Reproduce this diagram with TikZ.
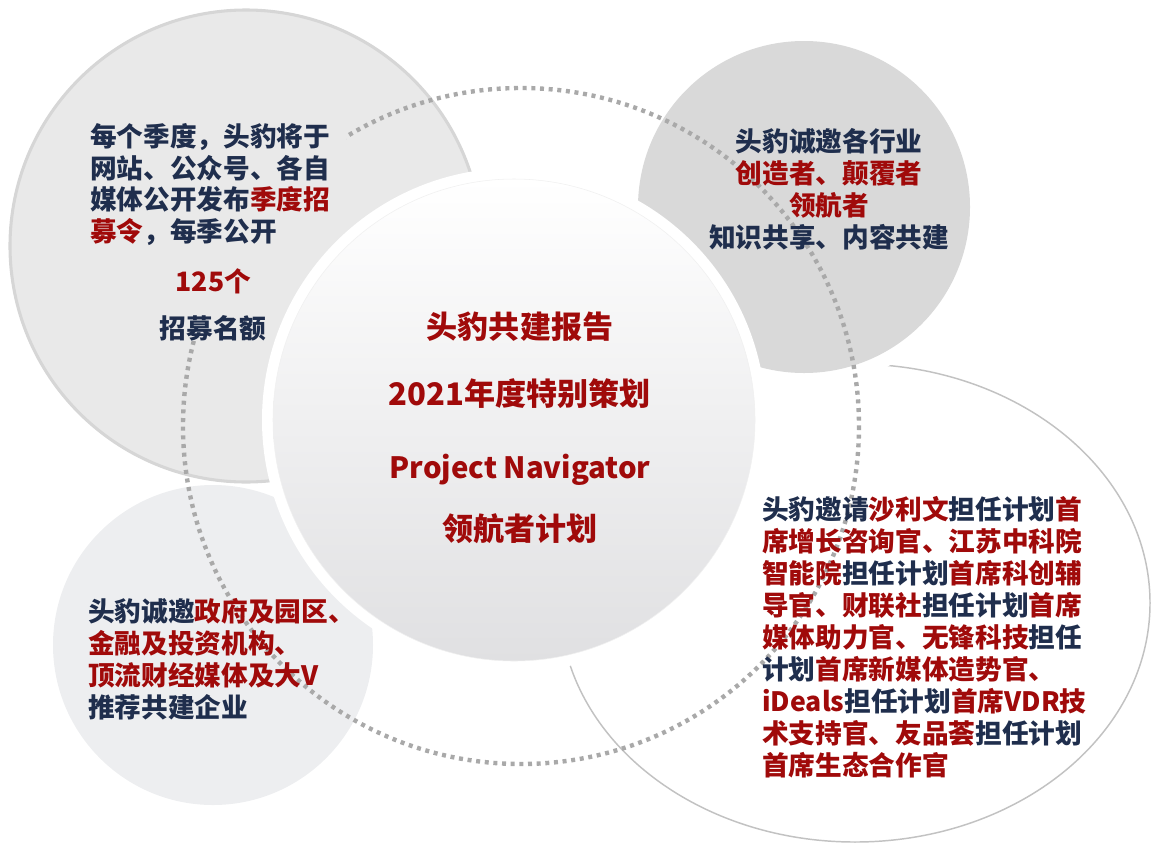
\documentclass[tikz,border=0pt]{standalone}
\usepackage{fontspec}
\setmainfont{Noto Sans CJK SC}
\usepackage{xcolor}
\usepackage{tikz}
\definecolor{navytext}{HTML}{1F2E4D}
\definecolor{leadred}{HTML}{A00A0A}
\definecolor{tlfill}{HTML}{E9E9E9}
\definecolor{tledge}{HTML}{D6D6D6}
\definecolor{trfill}{HTML}{D9D9D9}
\definecolor{blfill}{HTML}{EDEEF0}
\definecolor{bredge}{HTML}{C2C2C2}
\definecolor{hubshade}{HTML}{E0E0E2}
\definecolor{ringgray}{HTML}{A9A9A9}
\newcommand{\hilite}[1]{\textcolor{leadred}{#1}}
\tikzset{
    note/.style={inner sep=0pt, text=navytext, font=\fontsize{20}{24}\selectfont\bfseries},
    hubtext/.style={inner sep=0pt, text=leadred, font=\fontsize{23.3}{28}\selectfont\bfseries, anchor=base},
    dotring/.style={draw=ringgray, line width=3.3pt, dash pattern=on 3pt off 3.5pt}
}

\begin{document}
\begin{tikzpicture}[x=0.75pt, y=-0.75pt]
\useasboundingbox (0,0) rectangle (1151,843);

% circles, back to front
\draw[fill=white, draw=bredge, line width=1.1pt] (855,603) ellipse [x radius=295, y radius=239];
\draw[fill=tlfill, draw=tledge, line width=2.3pt] (246,246) circle [radius=236];
\fill[blfill] (213,645) circle [radius=160];
\fill[white] (804,207) circle [radius=180];
\fill[trfill] (804,207) circle [radius=166];

% dotted ring
\draw[dotring] (521,426) circle [radius=338];

% top left
\node[note, fill=tlfill, text width=192pt, anchor=north west] (tlnote) at (90,123) {%
  \parindent=0pt \baselineskip=23.8pt
  每个季度，头豹将于\\
  网站、公众号、各自\\
  媒体公开发布\hilite{季度招}\\
  \hilite{募令}，每季公开\par
  \vspace{13.7pt}\centering
  \hspace*{-7.5pt}\hilite{125个}\\[11.4pt]
  \hspace*{-7.5pt}招募名额\par};

% centre
\fill[white] (514,420) circle [radius=252];
\shade[top color=white, middle color=white, bottom color=hubshade, draw=black!6, line width=0.4pt] (514,420) circle [radius=241];
\node[hubtext] (hub1) at (520,338) {头豹共建报告};
\node[hubtext] (hub2) at (520,405) {2021年度特别策划};
\node[hubtext, font=\fontsize{22}{26}\selectfont\bfseries] (hub3) at (520,478) {Project Navigator};
\node[hubtext] (hub4) at (520,540) {领航者计划};

% top right
\node[note, align=center, anchor=north] (trnote) at (829,128) {%
  \baselineskip=24.75pt
  头豹诚邀各行业\\
  \hilite{创造者、颠覆者}\\
  \hilite{领航者}\\
  知识共享、内容共建};

% bottom left
\node[note, align=left, anchor=north west] (blnote) at (88,598) {%
  \baselineskip=25pt
  头豹诚邀\hilite{政府及园区、}\\
  \hilite{金融及投资机构、}\\
  \hilite{顶流财经媒体及大V}\\
  推荐共建企业};

% bottom right
\node[note, align=left, anchor=north west] (brnote) at (762,496) {%
  \baselineskip=24.3pt
  头豹邀请\hilite{沙利文}担任计划\hilite{首}\\
  \hilite{席增长咨询官、江苏中科院}\\
  \hilite{智能院}担任计划\hilite{首席科创辅}\\
  \hilite{导官、财联社}担任计划\hilite{首席}\\
  \hilite{媒体助力官、无锋科技}担任\\
  计划\hilite{首席新媒体造势官、}\\
  \hilite{iDeals}担任计划\hilite{首席VDR技}\\
  \hilite{术支持官、友品荟}担任计划\\
  \hilite{首席生态合作官}};
\end{tikzpicture}
\end{document}
